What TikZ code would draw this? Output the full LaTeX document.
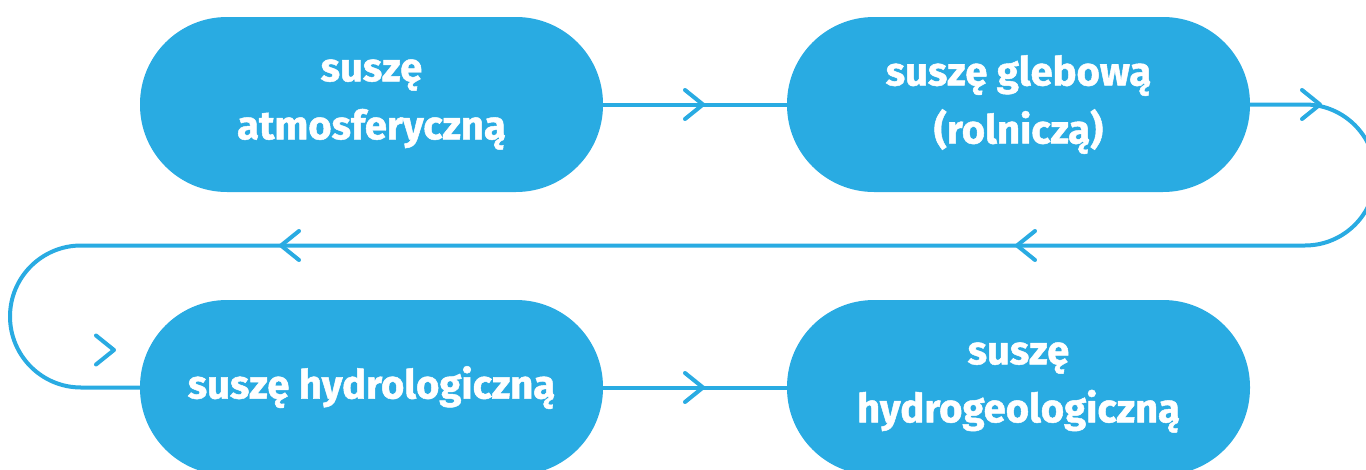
\documentclass[tikz,border=0pt]{standalone}
\usepackage{fontspec}
\setmainfont{Fira Sans}[BoldFeatures={FakeBold=1.2}]
\definecolor{sky}{RGB}{41,171,226}
\tikzset{
  stadium/.style={fill=sky, draw=none, minimum width=463pt, minimum height=175pt,
    rounded corners=87pt, text=white, align=center, inner sep=0pt,
    font=\fontsize{40}{58}\selectfont\bfseries},
  flow/.style={draw=sky, line width=4pt, line cap=round, line join=round},
  chev/.pic={\draw[flow] (-18,14.5) -- (0,0) -- (-18,-14.5);}
}
\begin{document}
\begin{tikzpicture}[x=1pt,y=1pt]
\useasboundingbox (0,0) rectangle (1366,-469);
\clip (0,0) rectangle (1366,-469);
\coordinate (rtop) at (1305,-104.5);
\coordinate (rbot) at (1305,-245.5);
\coordinate (ltop) at (81,-245.5);
\coordinate (lbot) at (81,-387.5);
\node[stadium] (b1) at (371.5,-104.5) {suszę\\atmosferyczną};
\node[stadium] (b2) at (1018.5,-104.5) {suszę glebową\\(rolniczą)};
\node[stadium] (b3) at (371.5,-387.5) {suszę hydrologiczną};
\node[stadium] (b4) at (1018.5,-387.5) {suszę\\hydrogeologiczną};
\draw[flow] (b1.east) -- (b2.west);
\draw[flow] (b2.east) -- (rtop) arc[start angle=90, end angle=-90, radius=70.5] -- (ltop)
  arc[start angle=90, end angle=270, radius=71] -- (b3.west);
\draw[flow] (b3.east) -- (b4.west);
% chevrons
\pic at (703,-104.5) {chev};
\pic at (1320,-104.5) {chev};
\pic[rotate=180] at (1017,-245.5) {chev};
\pic[rotate=180] at (281,-245.5) {chev};
\pic at (114,-350) {chev};
\pic at (703,-387.5) {chev};
\end{tikzpicture}
\end{document}
